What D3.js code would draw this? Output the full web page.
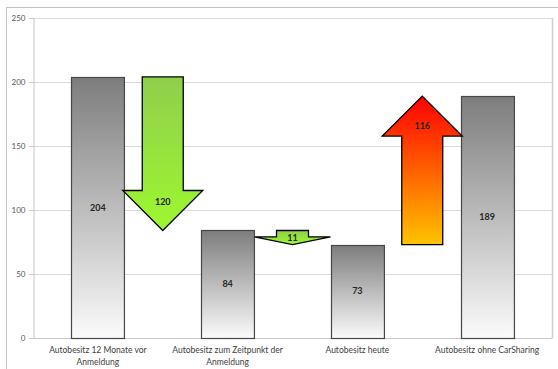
<!DOCTYPE html>
<html>
<head>
<meta charset="utf-8">
<script src="https://cdn.jsdelivr.net/npm/d3@7"></script>
<style>
  html, body { margin: 0; padding: 0; background: #fff; }
  svg { display: block; }
  text { font-family: Lato, "Liberation Sans", sans-serif; }
</style>
</head>
<body>
<svg id="chart" width="558" height="369"></svg>
<script>
// Car ownership before / after joining car sharing
const categories = [
  ["Autobesitz 12 Monate vor", "Anmeldung"],
  ["Autobesitz zum Zeitpunkt der", "Anmeldung"],
  ["Autobesitz heute"],
  ["Autobesitz ohne CarSharing"]
];
const ownership = [204, 84, 73, 189];
const yTicks = [0, 50, 100, 150, 200, 250];

const W = 558, H = 369;
const plot = { left: 33, right: 552, top: 18, bottom: 338 };

const svg = d3.select("#chart");
const defs = svg.append("defs");

function vGrad(id, stops) {
  const g = defs.append("linearGradient")
    .attr("id", id).attr("x1", 0).attr("y1", 0).attr("x2", 0).attr("y2", 1);
  stops.forEach(([o, c]) => g.append("stop").attr("offset", o).attr("stop-color", c));
}
vGrad("barFill", [[0, "#7d7d7d"], [1, "#fbfbfb"]]);
vGrad("downFill", [[0, "#8fcf4c"], [1, "#9ef72f"]]);
vGrad("upFill", [[0, "#ff0000"], [0.5, "#ff6000"], [1, "#ffc400"]]);

// outer chart frame
svg.append("rect")
  .attr("x", 6.5).attr("y", 7.5).attr("width", W).attr("height", H)
  .attr("fill", "none").attr("stroke", "#c4c4c4").attr("stroke-width", 1);

const keys = categories.map((_, i) => i);
const x = d3.scaleBand().domain(keys)
  .range([plot.left, plot.right]).paddingInner(0.592).paddingOuter(0.296);
const y = d3.scaleLinear().domain([0, 250]).range([plot.bottom, plot.top]);

// gridlines
svg.append("g").selectAll("line").data(yTicks.slice(1)).join("line")
  .attr("x1", plot.left).attr("x2", plot.right)
  .attr("y1", d => Math.round(y(d)) + 0.5).attr("y2", d => Math.round(y(d)) + 0.5)
  .attr("stroke", "#d9d9d9").attr("stroke-width", 1.2);

// right edge of plot area
svg.append("line")
  .attr("x1", plot.right + 0.5).attr("x2", plot.right + 0.5)
  .attr("y1", plot.top).attr("y2", plot.bottom + 0.5)
  .attr("stroke", "#cfcfcf").attr("stroke-width", 1.5);

// y axis
const yAxis = svg.append("g")
  .attr("transform", `translate(${plot.left + 0.5},0)`)
  .call(d3.axisLeft(y).tickValues(yTicks).tickSize(4).tickPadding(4));
yAxis.select(".domain").attr("stroke", "#c8c8c8");
yAxis.selectAll(".tick line").attr("stroke", "#c8c8c8");
yAxis.selectAll(".tick text")
  .attr("fill", "#595959").attr("font-size", 8).attr("font-family", "Lato, sans-serif");

// x baseline
svg.append("line")
  .attr("x1", plot.left - 4).attr("x2", plot.right)
  .attr("y1", plot.bottom + 0.5).attr("y2", plot.bottom + 0.5)
  .attr("stroke", "#c8c8c8");

// category labels
const catG = svg.append("g");
categories.forEach((lines, i) => {
  const t = catG.append("text")
    .attr("x", x(i) + x.bandwidth() / 2).attr("y", 353)
    .attr("text-anchor", "middle").attr("font-size", 8.5).attr("fill", "#404040");
  lines.forEach((ln, j) => t.append("tspan")
    .attr("x", x(i) + x.bandwidth() / 2).attr("dy", j === 0 ? 0 : 11.5).text(ln));
});

// bars
svg.append("g").selectAll("rect").data(ownership).join("rect")
  .attr("x", (d, i) => Math.round(x(i)) + 0.5)
  .attr("y", d => Math.round(y(d)) + 0.5)
  .attr("width", x.bandwidth())
  .attr("height", d => y(0) - Math.round(y(d)))
  .attr("fill", "url(#barFill)")
  .attr("stroke", "#474747").attr("stroke-width", 1.2);

// bar values
svg.append("g").selectAll("text").data(ownership).join("text")
  .attr("x", (d, i) => x(i) + x.bandwidth() / 2)
  .attr("y", d => y(d / 2))
  .attr("dy", "0.35em")
  .attr("text-anchor", "middle").attr("font-size", 9).attr("font-weight", "bold")
  .attr("fill", "#262626")
  .text(d => d);

// block arrows showing the change between consecutive bars
const changes = d3.pairs(ownership).map(([a, b], i) => ({ from: a, to: b, i }));

function arrowPath(cx, y0, y1) {
  const len = Math.abs(y1 - y0);
  const dir = y1 > y0 ? 1 : -1;
  const headLen = Math.min(40, len * 0.55);
  const headW = len < 30 ? 76 : 80;
  const shaftW = len < 30 ? 32 : 41;
  const yb = y1 - dir * headLen;
  return [
    [cx - shaftW / 2, y0], [cx + shaftW / 2, y0], [cx + shaftW / 2, yb],
    [cx + headW / 2, yb], [cx, y1], [cx - headW / 2, yb], [cx - shaftW / 2, yb]
  ].map((p, k) => (k ? "L" : "M") + p[0] + "," + p[1]).join("") + "Z";
}

const arrows = svg.append("g");
changes.forEach(c => {
  const cx = (x(c.i) + x(c.i + 1) + x.bandwidth()) / 2;
  const y0 = y(c.from), y1 = y(c.to);
  const down = c.to < c.from;
  arrows.append("path")
    .attr("d", arrowPath(cx, y0, y1))
    .attr("fill", down ? "url(#downFill)" : "url(#upFill)")
    .attr("stroke", "#000").attr("stroke-width", 1.3).attr("stroke-linejoin", "miter");
  const len = Math.abs(y1 - y0);
  const headLen = Math.min(40, len * 0.55);
  const ly = len < 30 ? (y0 + y1) / 2 : (down ? y1 - headLen + 11 : y1 + headLen - 10);
  arrows.append("text")
    .attr("x", cx).attr("y", ly).attr("dy", "0.35em")
    .attr("text-anchor", "middle").attr("font-size", 9).attr("font-weight", "bold")
    .attr("fill", "#262626")
    .text(Math.abs(c.from - c.to));
});
</script>
</body>
</html>
